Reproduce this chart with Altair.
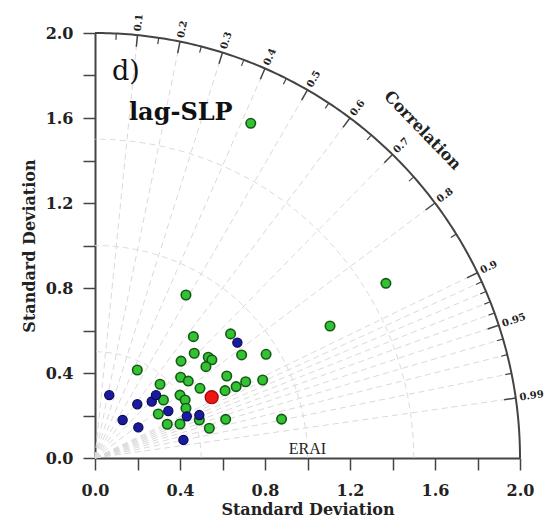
import altair as alt
import numpy as np
import pandas as pd

# ---- data (x = std*corr, y = std*sin) ----
green_x = [0.463, 0.638, 0.199, 0.467, 0.533, 0.550, 0.522, 0.690, 0.805, 0.405,
           0.403, 0.439, 0.494, 0.306, 0.620, 0.612, 0.664, 0.709, 0.789, 0.322,
           0.400, 0.424, 0.428, 0.298, 0.340, 0.400, 0.491, 0.538, 0.615, 0.878,
           0.733, 0.428, 1.369, 1.106]
green_y = [0.571, 0.584, 0.414, 0.493, 0.474, 0.462, 0.430, 0.485, 0.488, 0.456,
           0.380, 0.362, 0.328, 0.347, 0.386, 0.317, 0.336, 0.359, 0.367, 0.273,
           0.296, 0.273, 0.234, 0.207, 0.159, 0.160, 0.179, 0.140, 0.182, 0.183,
           1.575, 0.767, 0.822, 0.621]
blue_x = [0.067, 0.199, 0.130, 0.204, 0.267, 0.287, 0.345, 0.432, 0.491, 0.416, 0.670]
blue_y = [0.296, 0.253, 0.179, 0.144, 0.266, 0.296, 0.221, 0.196, 0.202, 0.085, 0.543]
red_x = [0.549]
red_y = [0.286]

corr_major = [0.1, 0.2, 0.3, 0.4, 0.5, 0.6, 0.7, 0.8, 0.9, 0.95, 0.99]
corr_major_labels = ["0.1", "0.2", "0.3", "0.4", "0.5", "0.6", "0.7", "0.8", "0.9", "0.95", "0.99"]
corr_minor = [0.05, 0.15, 0.25, 0.35, 0.45, 0.55, 0.65, 0.75, 0.85,
              0.91, 0.92, 0.93, 0.94, 0.96, 0.97, 0.98]
corr_rays = [0.1, 0.2, 0.3, 0.4, 0.5, 0.6, 0.7, 0.8, 0.9,
             0.91, 0.92, 0.93, 0.94, 0.95, 0.96, 0.97, 0.98, 0.99]
std_arcs = [0.5, 1.0, 1.5]
outer_radius = 2.0
ref_std = 1.0
axis_ticks = [0.0, 0.2, 0.4, 0.6, 0.8, 1.0, 1.2, 1.4, 1.6, 1.8, 2.0]

SERIF = "DejaVu Serif"
AX = "#444444"
GRID = "#dadada"

xs = alt.Scale(domain=[0, 2], nice=False, zero=False)
ys = alt.Scale(domain=[0, 2], nice=False, zero=False)
lab_expr = "round(datum.value*10)%4==0 ? format(datum.value,'.1f') : ''"
axis_x = alt.Axis(values=axis_ticks, grid=False, title="Standard Deviation", labelExpr=lab_expr)
axis_y = alt.Axis(values=axis_ticks, grid=False, title="Standard Deviation", labelExpr=lab_expr)
X = alt.X("x:Q", scale=xs, axis=axis_x)
Y = alt.Y("y:Q", scale=ys, axis=axis_y)

# ---- geometry tables ----
th = np.linspace(0, np.pi / 2, 181)
arc_rows = []
for r in std_arcs:
    for i, t in enumerate(th):
        arc_rows.append({"r": r, "i": i, "x": r * np.cos(t), "y": r * np.sin(t)})
arcs = pd.DataFrame(arc_rows)
outer = pd.DataFrame({"i": range(len(th)), "x": outer_radius * np.cos(th), "y": outer_radius * np.sin(th)})

rays = pd.DataFrame({"x": 0.0, "y": 0.0,
                     "x2": [outer_radius * c for c in corr_rays],
                     "y2": [outer_radius * np.sqrt(1 - c * c) for c in corr_rays]})

def tick_df(cs, length):
    return pd.DataFrame({
        "x": [outer_radius * c for c in cs],
        "y": [outer_radius * np.sqrt(1 - c * c) for c in cs],
        "x2": [(outer_radius - length) * c for c in cs],
        "y2": [(outer_radius - length) * np.sqrt(1 - c * c) for c in cs]})

maj_ticks = tick_df(corr_major, 0.055)
min_ticks = tick_df(corr_minor, 0.03)

lab_r = outer_radius + 0.018
corr_labels = pd.DataFrame({
    "x": [lab_r * c for c in corr_major],
    "y": [lab_r * np.sqrt(1 - c * c) for c in corr_major],
    "ang": [(360 - np.degrees(np.arccos(c))) % 360 for c in corr_major],
    "t": corr_major_labels})

pts_g = pd.DataFrame({"x": green_x, "y": green_y})
pts_b = pd.DataFrame({"x": blue_x, "y": blue_y})
pts_r = pd.DataFrame({"x": red_x, "y": red_y})

ann = pd.DataFrame({"x": [0.08, 0.16], "y": [1.78, 1.59], "t": ["d)", "lag-SLP"]})

# ---- layers ----
arc_layer = alt.Chart(arcs).mark_line(color=GRID, strokeWidth=1, strokeDash=[6, 4]).encode(
    x=X, y=Y, detail="r:N", order="i:Q")

ray_layer = alt.Chart(rays).mark_rule(color=GRID, strokeWidth=1, strokeDash=[6, 4]).encode(
    x=X, y=Y, x2="x2:Q", y2="y2:Q")

outer_layer = alt.Chart(outer).mark_line(color=AX, strokeWidth=2).encode(x=X, y=Y, order="i:Q")

maj_layer = alt.Chart(maj_ticks).mark_rule(color=AX, strokeWidth=1.5).encode(
    x=X, y=Y, x2="x2:Q", y2="y2:Q")
min_layer = alt.Chart(min_ticks).mark_rule(color=AX, strokeWidth=1.2).encode(
    x=X, y=Y, x2="x2:Q", y2="y2:Q")

lab_layer = alt.Chart(corr_labels).mark_text(font=SERIF, fontWeight="bold", fontSize=10,
                                             align="left", baseline="middle", color="#222").encode(
    x=X, y=Y, text="t:N", angle=alt.Angle("ang:Q", scale=None))

corr_title = alt.Chart(pd.DataFrame({"x": [2.18 * np.cos(np.pi / 4)], "y": [2.18 * np.sin(np.pi / 4)],
                                     "t": ["Correlation"]})).mark_text(
    font=SERIF, fontWeight="bold", fontSize=16, angle=46, align="center", baseline="middle",
    color="#222").encode(x=X, y=Y, text="t:N")

erai = alt.Chart(pd.DataFrame({"x": [ref_std], "y": [0.0], "t": ["ERAI"]})).mark_text(
    font="Liberation Serif", fontSize=16, align="center", baseline="bottom", dy=-1, color="#222").encode(
    x=X, y=Y, text="t:N")

ann_d = alt.Chart(ann.iloc[[0]]).mark_text(font=SERIF, fontSize=27, align="left",
                                           baseline="alphabetic", color="#111").encode(
    x=X, y=Y, text="t:N")
ann_l = alt.Chart(ann.iloc[[1]]).mark_text(font=SERIF, fontWeight="bold", fontSize=24,
                                           align="left", baseline="alphabetic", color="#111").encode(
    x=X, y=Y, text="t:N")

green_layer = alt.Chart(pts_g).mark_point(filled=True, size=90, color="#33c233",
                                          stroke="#145a14", strokeWidth=1.6, opacity=1).encode(x=X, y=Y)
blue_layer = alt.Chart(pts_b).mark_point(filled=True, size=85, color="#1a1a9e",
                                         stroke="#0a0a50", strokeWidth=1.2, opacity=1).encode(x=X, y=Y)
red_layer = alt.Chart(pts_r).mark_point(filled=True, size=170, color="#ee1515",
                                        stroke="#a00000", strokeWidth=1.2, opacity=1).encode(x=X, y=Y)

chart = alt.layer(
    arc_layer, ray_layer, outer_layer, maj_layer, min_layer, lab_layer, corr_title,
    erai, ann_d, ann_l, green_layer, blue_layer, red_layer
).properties(
    width=425, height=425,
    autosize=alt.AutoSizeParams(type="none"),
    padding={"left": 95, "top": 33, "right": 25, "bottom": 65},
    background="white"
).configure_view(stroke=None).configure_axis(
    labelFont=SERIF, labelFontWeight="bold", labelFontSize=16, labelColor="#222",
    titleFont=SERIF, titleFontWeight="bold", titleFontSize=16, titleColor="#222",
    domainColor=AX, domainWidth=2, tickColor=AX, tickWidth=1.5, tickSize=12,
    labelPadding=10, titlePadding=8, labelFlush=False, labelOverlap=False
).configure_axisX(labelPadding=12, titlePadding=3)

chart.save("out.html", embed_options={"renderer": "svg", "actions": False})
